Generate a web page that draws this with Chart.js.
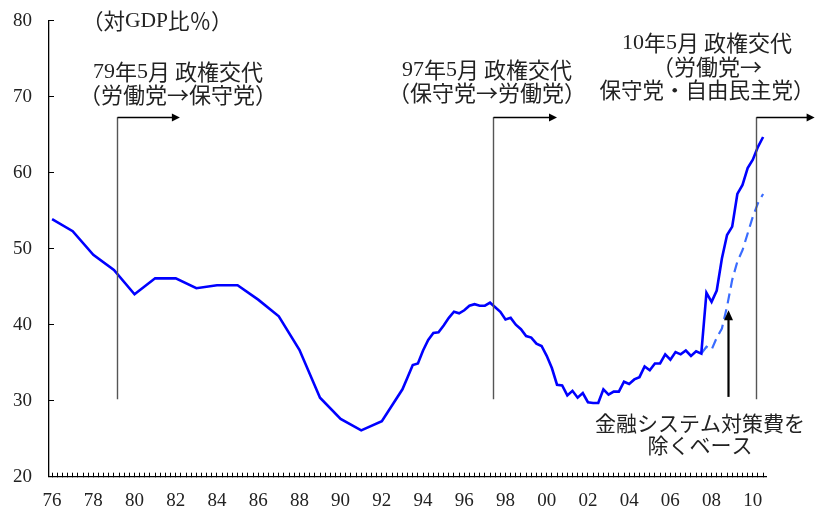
<!DOCTYPE html>
<html>
<head>
<meta charset="utf-8">
<script src="https://cdn.jsdelivr.net/npm/chart.js@4.4.1/dist/chart.umd.min.js"></script>
<style>
html,body{margin:0;padding:0;background:#fff;}
#wrap{width:816px;height:514px;position:relative;}
</style>
</head>
<body>
<div id="wrap"><canvas id="c" width="816" height="514"></canvas></div>
<script>
// ---- data ----
const annualYears = [1976,1977,1978,1979,1980,1981,1982,1983,1984,1985,1986,1987,1988,1989,1990,1991,1992];
const annualDebt  = [53.9,52.3,49.2,47.2,44.0,46.1,46.1,44.8,45.2,45.2,43.3,41.1,36.7,30.4,27.6,26.1,27.3];

const quarters = [
 '1993Q1','1993Q2','1993Q3','1993Q4','1994Q1','1994Q2','1994Q3','1994Q4',
 '1995Q1','1995Q2','1995Q3','1995Q4','1996Q1','1996Q2','1996Q3','1996Q4',
 '1997Q1','1997Q2','1997Q3','1997Q4','1998Q1','1998Q2','1998Q3','1998Q4',
 '1999Q1','1999Q2','1999Q3','1999Q4','2000Q1','2000Q2','2000Q3','2000Q4',
 '2001Q1','2001Q2','2001Q3','2001Q4','2002Q1','2002Q2','2002Q3','2002Q4',
 '2003Q1','2003Q2','2003Q3','2003Q4','2004Q1','2004Q2','2004Q3','2004Q4',
 '2005Q1','2005Q2','2005Q3','2005Q4','2006Q1','2006Q2','2006Q3','2006Q4',
 '2007Q1','2007Q2','2007Q3','2007Q4','2008Q1','2008Q2','2008Q3','2008Q4',
 '2009Q1','2009Q2','2009Q3','2009Q4','2010Q1','2010Q2','2010Q3'];
const quarterlyDebt = [
 31.5,33.1,34.7,34.9, 36.6,38.0,38.9,39.0,
 39.9,40.9,41.7,41.5, 41.9,42.5,42.7,42.5,
 42.5,42.9,42.3,41.7, 40.7,40.9,40.0,39.4,
 38.5,38.3,37.5,37.2, 35.9,34.3,32.1,32.0,
 30.7,31.3,30.4,31.0, 29.8,29.7,29.7,31.5,
 30.8,31.2,31.2,32.5, 32.2,32.8,33.1,34.5,
 34.0,34.9,34.9,36.1, 35.4,36.4,36.1,36.6,
 35.9,36.5,36.2,44.2, 43.0,44.5,48.7,51.8,
 52.9,57.2,58.4,60.6, 61.7,63.4,64.7];
const quarterlyExFinancial = [
 null,null,null,null, null,null,null,null,
 null,null,null,null, null,null,null,null,
 null,null,null,null, null,null,null,null,
 null,null,null,null, null,null,null,null,
 null,null,null,null, null,null,null,null,
 null,null,null,null, null,null,null,null,
 null,null,null,null, null,null,null,null,
 null,null,36.2,37.1, 36.7,38.3,39.5,42.4,
 45.9,48.3,49.8,52.0, 54.2,56.0,57.2];

const xLabelYears = [1976,1978,1980,1982,1984,1986,1988,1990,1992,1994,1996,1998,2000,2002,2004,2006,2008,2010];
const xTickLabels = ['76','78','80','82','84','86','88','90','92','94','96','98','00','02','04','06','08','10'];
const yTickValues = [20,30,40,50,60,70,80];

// ---- transforms ----
function qToX(q){ return parseInt(q.slice(0,4),10) + (parseInt(q.slice(5),10)-1)/4; }
const solidData = annualYears.map((y,i)=>({x:y,y:annualDebt[i]}))
  .concat(quarters.map((q,i)=>({x:qToX(q),y:quarterlyDebt[i]})));
const dashedData = quarters.map((q,i)=>({x:qToX(q),y:quarterlyExFinancial[i]})).filter(p=>p.y!==null);

const SERIF = '"Liberation Serif", "Noto Sans CJK JP", serif';
const LATIN = '"Liberation Serif"';
const CJK = '"Noto Sans CJK JP"';
const TXT = '#222';

function arrowHead(ctx, x, y, dir, len, half){
  ctx.beginPath();
  if (dir==='right'){ ctx.moveTo(x,y); ctx.lineTo(x-len,y-half); ctx.lineTo(x-len,y+half); }
  else { ctx.moveTo(x,y); ctx.lineTo(x-half,y+len); ctx.lineTo(x+half,y+len); }
  ctx.closePath(); ctx.fill();
}

// draw text mixing a serif face for ASCII and a CJK face for the rest
function drawMixed(ctx, text, x, y, size, align){
  const runs = [];
  for (const ch of text){
    const latin = /[\x21-\x7E]/.test(ch);
    const f = size + 'px ' + (latin ? LATIN : CJK);
    if (runs.length && runs[runs.length-1].f === f) runs[runs.length-1].t += ch;
    else runs.push({f, t:ch});
  }
  let total = 0;
  runs.forEach(r=>{ ctx.font = r.f; r.w = ctx.measureText(r.t).width; total += r.w; });
  let cx = align==='center' ? x - total/2 : (align==='right' ? x - total : x);
  ctx.textAlign = 'left';
  runs.forEach(r=>{ ctx.font = r.f; ctx.fillText(r.t, cx, y); cx += r.w; });
}

const annot = {
  id:'annot',
  afterDraw(chart){
    const ctx = chart.ctx, xs = chart.scales.x, ys = chart.scales.y;
    const X = v=>xs.getPixelForValue(v), Y = v=>ys.getPixelForValue(v);
    ctx.save();
    const events = [
      {x:1979.15, to:1982.2},
      {x:1997.39, to:2000.5},
      {x:2010.16, to:2013.0}
    ];
    events.forEach(e=>{
      const px = Math.round(X(e.x))+0.5;
      ctx.strokeStyle = '#555'; ctx.lineWidth = 1.4;
      ctx.beginPath(); ctx.moveTo(px, Y(30.2)); ctx.lineTo(px, Y(67.3)); ctx.stroke();
      ctx.strokeStyle = '#000'; ctx.lineWidth = 1.6;
      const py = Math.round(Y(67.3))+0.5;
      const ex = X(e.to);
      ctx.beginPath(); ctx.moveTo(px, py); ctx.lineTo(ex-6, py); ctx.stroke();
      ctx.fillStyle = '#000';
      arrowHead(ctx, ex, py, 'right', 8, 4);
    });
    const ax = Math.round(X(2008.8))+0.5;
    ctx.strokeStyle = '#000'; ctx.lineWidth = 2.2;
    ctx.beginPath(); ctx.moveTo(ax, Y(30.5)); ctx.lineTo(ax, Y(41.9)+8); ctx.stroke();
    ctx.fillStyle='#000';
    arrowHead(ctx, ax, Y(41.9), 'up', 10, 4.5);

    ctx.fillStyle = TXT; ctx.textBaseline = 'middle';
    drawMixed(ctx, '（対GDP比％）', 82, 21, 21.5, 'left');
    drawMixed(ctx, '79年5月 政権交代', 178, 72, 22, 'center');
    drawMixed(ctx, '（労働党→保守党）', 178, 95, 22, 'center');
    drawMixed(ctx, '97年5月 政権交代', 487, 70, 22, 'center');
    drawMixed(ctx, '（保守党→労働党）', 487, 93, 22, 'center');
    drawMixed(ctx, '10年5月 政権交代', 707, 43, 22, 'center');
    drawMixed(ctx, '（労働党→', 707, 67, 22, 'center');
    drawMixed(ctx, '保守党・自由民主党）', 707, 90, 21.5, 'center');
    drawMixed(ctx, '金融システム対策費を', 700, 423, 21, 'center');
    drawMixed(ctx, '除くベース', 700, 445, 21, 'center');
    ctx.restore();
  }
};

new Chart(document.getElementById('c'), {
  type:'line',
  data:{
    datasets:[
      {data:solidData, borderColor:'#0000ff', borderWidth:2.6, pointRadius:0, tension:0, fill:false},
      {data:dashedData, borderColor:'#3a6cff', borderWidth:2.2, borderDash:[10,6], pointRadius:0, tension:0, fill:false}
    ]
  },
  options:{
    responsive:false, animation:false,
    layout:{padding:{left:0, right:50, top:20.7, bottom:0}},
    plugins:{legend:{display:false}, tooltip:{enabled:false}},
    scales:{
      x:{
        type:'linear', min:1975.85, max:2010.64,
        afterBuildTicks(s){
          const t=[]; for(let k=0;k<=138;k++) t.push({value:1976+k*0.25});
          s.ticks=t;
        },
        afterFit(s){ s.height = 37.3; },
        grid:{drawOnChartArea:false, drawTicks:true, tickLength:-4, color:'#000', lineWidth:1},
        border:{display:true, color:'#000', width:1.3},
        ticks:{
          autoSkip:false, maxRotation:0, minRotation:0, padding:17,
          color:TXT, font:{family:SERIF, size:19},
          callback(v){ const i = xLabelYears.indexOf(Math.round(v*100)/100); return i>=0 ? xTickLabels[i] : ''; }
        }
      },
      y:{
        min:20, max:80,
        afterBuildTicks(s){ s.ticks = yTickValues.map(v=>({value:v})); },
        afterFit(s){ s.width = 49; s.paddingTop = 0; s.paddingBottom = 0; },
        grid:{drawOnChartArea:false, drawTicks:true, tickLength:-5, color:'#000', lineWidth:1},
        border:{display:true, color:'#000', width:1.3},
        ticks:{padding:22, color:TXT, font:{family:SERIF, size:19}}
      }
    }
  },
  plugins:[annot]
});
</script>
</body>
</html>
